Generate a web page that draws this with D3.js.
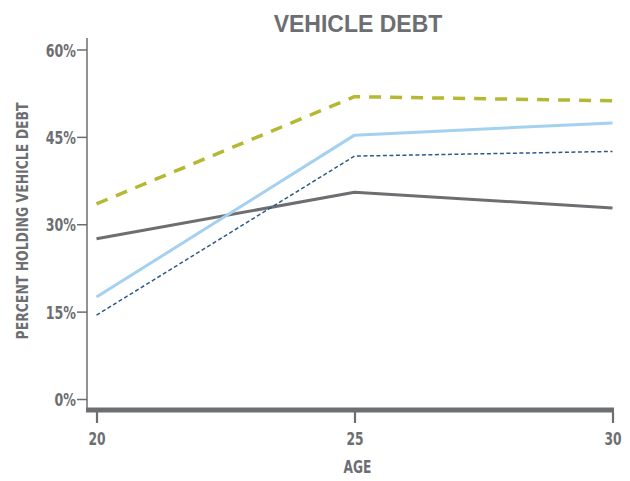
<!DOCTYPE html>
<html>
<head>
<meta charset="utf-8">
<script src="https://cdn.jsdelivr.net/npm/d3@7"></script>
<style>
  html, body { margin: 0; padding: 0; background: #fff; }
  svg { display: block; }
  text { font-family: 'DejaVu Sans Condensed', 'Liberation Sans Narrow', sans-serif; font-weight: bold; fill: #6d6e71; }
</style>
</head>
<body>
<svg id="chart" width="630" height="481"></svg>
<script>
// ---- data ----
const ages = [20, 25, 30];
const seriesGray = [27.5, 35.5, 32.8];
const seriesLightBlue = [17.5, 45.3, 47.4];
const seriesNavy = [14.4, 41.7, 42.5];
const seriesOlive = [33.5, 51.9, 51.2];
const yTicks = [0, 15, 30, 45, 60];
const xTicks = [20, 25, 30];

const series = [
  { values: seriesGray, color: "#6d6e71", width: 3, dash: null },
  { values: seriesLightBlue, color: "#a5d1f0", width: 3, dash: null },
  { values: seriesNavy, color: "#2b5a8e", width: 1.5, dash: "4,2.5" },
  { values: seriesOlive, color: "#b4b832", width: 3.5, dash: "12,9" }
];

const svg = d3.select("#chart");
const axisX = 87;
const x = d3.scaleLinear().domain([20, 30]).range([96.5, 612.5]);
const y = d3.scaleLinear().domain([0, 60]).range([399, 49.5]);
const axisColor = "#6d6e71";

function condense(sx) {
  return function(sel) {
    sel.each(function() {
      const t = d3.select(this);
      const x0 = +t.attr("x") || 0;
      const prev = t.attr("transform") || "";
      t.attr("x", x0 / sx).attr("transform", prev + ` scale(${sx},1)`);
    });
  };
}

// title
svg.append("text")
  .attr("x", 358).attr("y", 31.5)
  .attr("text-anchor", "middle")
  .style("font-family", "'Liberation Sans', Arial, sans-serif")
  .style("font-size", "23px")
  .text("VEHICLE DEBT");

// y axis
const gy = svg.append("g").attr("transform", `translate(${axisX},0)`)
  .call(d3.axisLeft(y).tickValues(yTicks).tickSize(10).tickSizeOuter(0).tickPadding(1)
    .tickFormat(d => d + "%"));
gy.select(".domain").remove();
gy.selectAll(".tick line").attr("stroke", axisColor).attr("stroke-width", 1.5);
gy.selectAll(".tick text")
  .style("font-size", "18px")
  .attr("dy", "0.37em")
  .call(condense(0.78));
svg.append("line")
  .attr("x1", axisX).attr("x2", axisX)
  .attr("y1", y(60) - 11.5).attr("y2", y(0) + 11)
  .attr("stroke", axisColor).attr("stroke-width", 1.5);

// x axis
const barY = 410;
const gx = svg.append("g").attr("transform", `translate(0,${barY + 2})`)
  .call(d3.axisBottom(x).tickValues(xTicks).tickSize(11).tickSizeOuter(0).tickPadding(9)
    .tickFormat(d3.format("d")));
gx.select(".domain").remove();
gx.selectAll(".tick line").attr("stroke", axisColor).attr("stroke-width", 2.2);
gx.selectAll(".tick text").style("font-size", "18px").call(condense(0.76));
svg.append("line")
  .attr("x1", axisX - 1).attr("x2", x(30) + 1.5)
  .attr("y1", barY).attr("y2", barY)
  .attr("stroke", axisColor).attr("stroke-width", 5);

// x axis title
svg.append("text")
  .attr("x", x(25) + 3).attr("y", 473)
  .attr("text-anchor", "middle")
  .style("font-size", "17px")
  .call(condense(0.8))
  .text("AGE");

// y axis title
svg.append("text")
  .attr("transform", `translate(28,${221}) rotate(-90) scale(0.84,1)`)
  .attr("text-anchor", "middle")
  .style("font-size", "16.5px")
  .text("PERCENT HOLDING VEHICLE DEBT");

// lines
const line = d3.line().x((d, i) => x(ages[i])).y(d => y(d));
svg.append("g").selectAll("path").data(series).join("path")
  .attr("d", d => line(d.values))
  .attr("fill", "none")
  .attr("stroke", d => d.color)
  .attr("stroke-width", d => d.width)
  .attr("stroke-dasharray", d => d.dash)
  .attr("stroke-linejoin", "round");
</script>
</body>
</html>
